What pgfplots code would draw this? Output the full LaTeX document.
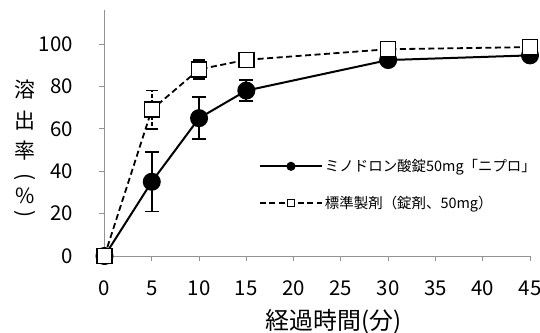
\documentclass[border=0pt]{standalone}
\usepackage{fontspec}
\setmainfont{Noto Sans CJK JP}
\usepackage{pgfplots}
\pgfplotsset{compat=1.18}
\begin{document}
\begin{tikzpicture}
\useasboundingbox (-104.5bp,-77bp) rectangle (435.5bp,256bp);
\begin{axis}[
  at={(0,0)}, anchor=south west, scale only axis,
  width=425.5bp, height=246bp,
  xmin=0, xmax=45, ymin=0, ymax=116,
  xtick={0,5,...,45}, ytick={0,20,...,100},
  axis x line*=bottom, axis y line*=left,
  axis line style={draw=gray!85, line width=0.8bp},
  tick style={draw=gray!85, line width=0.8bp},
  tick align=outside, major tick length=5bp,
  clip=false,
  /pgf/number format/assume math mode=true,
  tick label style={font=\fontsize{20.5}{24}\selectfont, inner sep=0pt},
  xticklabel style={anchor=center, yshift=-27bp},
  yticklabel style={anchor=east, xshift=-26.5bp},
  xlabel={経過時間(分)},
  xlabel style={font=\fontsize{24}{28}\selectfont, at={(axis description cs:0.5,0)}, anchor=center, yshift=-66bp, xshift=16bp},
  legend style={at={(axis cs:16,47.5)}, anchor=north west, draw=none, fill=none,
    font=\fontsize{14.5}{17}\selectfont, row sep=19bp},
  legend cell align=left,
  legend image code/.code={\draw[mark repeat=2, mark phase=2, #1, mark size=3.5bp] plot coordinates {(0bp,0bp) (31bp,0bp) (62bp,0bp)};},
]
\addplot[black, line width=2bp, mark=*, mark size=8bp,
  error bars/.cd, y dir=both, y explicit,
  error bar style={line width=1.8bp},
  error mark options={rotate=90, mark size=7bp, line width=1.8bp}]
  coordinates {(0,0) +- (0,0) (5,35) +- (0,14) (10,65) +- (0,10) (15,78) +- (0,5) (30,92.4) +- (0,0) (45,94.6) +- (0,0)};
\addlegendentry{ミノドロン酸錠50mg「ニプロ」}
\addplot[black, line width=1.8bp, dash pattern=on 6bp off 3.5bp, mark=square*, mark size=7.5bp,
  mark options={solid, fill=white, line width=1.5bp},
  error bars/.cd, y dir=both, y explicit,
  error bar style={line width=1.6bp, dash pattern=on 4bp off 2bp},
  error mark options={rotate=90, mark size=6bp, line width=1.6bp}]
  coordinates {(0,0) +- (0,0) (5,69) +- (0,9) (10,88) +- (0,4.5) (15,92.5) +- (0,0) (30,97.5) +- (0,0) (45,98.5) +- (0,0)};
\addlegendentry{標準製剤（錠剤、50mg）}
\end{axis}
\begin{scope}[every node/.style={font=\fontsize{21}{22.5}\selectfont, inner sep=0pt, anchor=center}]
\node at (-79.5bp,166bp) {溶};
\node at (-79.5bp,135bp) {出};
\node at (-79.5bp,105bp) {率};
\node[rotate=-90] at (-79.5bp,79bp) {(};
\node at (-79.5bp,60bp) {\%};
\node[rotate=-90] at (-79.5bp,42bp) {)};
\end{scope}
\end{tikzpicture}
\end{document}
